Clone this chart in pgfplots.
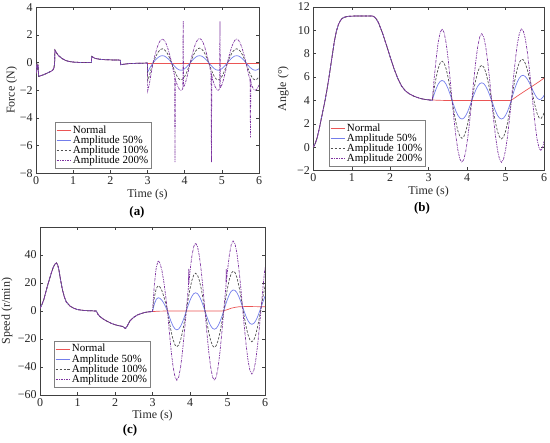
\documentclass[border=0pt]{standalone}
\usepackage{fontspec}
\setmainfont{Liberation Serif}
\usepackage{pgfplots}
\usepackage{pgfplotstable}
\pgfplotsset{compat=1.18}
\definecolor{cnorm}{RGB}{235,85,85}
\definecolor{cfifty}{RGB}{115,125,235}
\definecolor{chund}{RGB}{80,80,80}
\definecolor{ctwo}{RGB}{125,50,160}
\tikzset{
 snorm/.style={cnorm,line width=0.7pt},
 sfifty/.style={cfifty,line width=0.7pt},
 shund/.style={chund,line width=0.7pt,dash pattern=on 2.5pt off 1.5pt},
 stwo/.style={ctwo,line width=0.7pt,dash pattern=on 2.5pt off 1pt on 0.7pt off 1pt},
}
\pgfplotsset{
 myax/.style={
  scale only axis, anchor=north west,
  xmin=0, xmax=6, xtick={0,...,6},
  tick align=inside, major tick length=3bp,
  axis line style={black!75},
  every tick/.style={black!75,line width=0.4pt},
  tick label style={font=\fontsize{12}{13}\selectfont,text=black!85},
  label style={font=\fontsize{12}{13}\selectfont,text=black!85},
  /pgf/number format/assume math mode=true,
  legend style={anchor=south west,font=\fontsize{11}{11}\selectfont,draw=black!50,fill=white,
   inner xsep=1pt,inner ysep=1pt,row sep=-3pt,cells={anchor=west}},
  legend image code/.code={\draw[##1,line width=0.8pt] (0bp,0bp) -- (14bp,0bp);},
  xlabel={Time (s)},
 }
}

% ---------- Force ----------
\pgfplotstableread{
t v
0 -0.1
0.02 -0.6
0.04 -0.25
0.05 -0.15
0.06 -0.3
0.07 -1.0
0.1 -0.97
0.2 -0.88
0.3 -0.76
0.4 -0.63
0.45 -0.55
0.48 -0.4
0.5 -0.1
0.51 0.9
0.55 0.72
0.6 0.52
0.7 0.3
0.8 0.15
0.9 0.08
1.0 0.04
1.2 0.01
1.49 0.0
1.5 0.45
1.55 0.36
1.6 0.3
1.7 0.25
1.8 0.22
2.0 0.2
2.27 0.18
2.28 -0.15
2.35 -0.12
2.5 -0.07
2.7 -0.05
3.0 -0.03
}\fcommon
\pgfplotstableread{
t v
3.0 -0.03
6.0 -0.03
}\fnorm
\pgfplotstableread{
t v
3.000 -0.02
3.005 -0.70
3.050 -0.45
3.100 -0.22
3.150 -0.02
3.200 0.15
3.250 0.29
3.300 0.40
3.350 0.48
3.400 0.50
3.450 0.48
3.500 0.40
3.550 0.29
3.600 0.15
3.650 -0.02
3.700 -0.17
3.750 -0.32
3.800 -0.44
3.850 -0.52
3.900 -0.55
3.950 -0.52
4.000 -0.44
4.050 -0.32
4.100 -0.17
4.150 -0.02
4.200 0.15
4.250 0.29
4.300 0.40
4.350 0.48
4.400 0.50
4.450 0.48
4.500 0.40
4.550 0.29
4.600 0.15
4.650 -0.02
4.700 -0.17
4.750 -0.32
4.800 -0.44
4.850 -0.52
4.900 -0.55
4.950 -0.52
5.000 -0.44
5.050 -0.32
5.100 -0.17
5.150 -0.02
5.200 0.15
5.250 0.29
5.300 0.40
5.350 0.48
5.400 0.50
5.450 0.48
5.500 0.40
5.550 0.29
5.600 0.15
5.650 -0.02
5.700 -0.17
5.750 -0.32
5.800 -0.44
5.850 -0.52
5.900 -0.55
5.950 -0.52
6.000 -0.44
}\ffifty
\pgfplotstableread{
t v
3.000 -0.02
3.005 -1.30
3.050 -0.95
3.100 -0.45
3.150 -0.02
3.200 0.31
3.250 0.59
3.300 0.81
3.350 0.95
3.400 1.00
3.450 0.95
3.500 0.81
3.550 0.59
3.600 0.31
3.650 -0.02
3.700 -0.39
3.750 -0.74
3.800 -1.01
3.850 -1.19
3.900 -1.25
3.950 -1.19
4.000 -1.01
4.050 -0.74
4.100 -0.39
4.150 -0.02
4.200 0.32
4.250 0.62
4.300 0.85
4.350 1.00
4.400 1.05
4.450 1.00
4.500 0.85
4.550 0.62
4.600 0.32
4.650 -0.02
4.700 -0.39
4.750 -0.74
4.800 -1.01
4.850 -1.19
4.900 -1.25
4.950 -1.19
5.000 -1.01
5.050 -0.74
5.100 -0.39
5.150 -0.02
5.200 0.31
5.250 0.59
5.300 0.81
5.350 0.95
5.400 1.00
5.450 0.95
5.500 0.81
5.550 0.59
5.600 0.31
5.650 -0.02
5.700 -0.39
5.750 -0.74
5.800 -1.01
5.850 -1.19
5.900 -1.25
5.950 -1.19
6.000 -1.01
}\fhund
\pgfplotstableread{
t v
3.000 -0.02
3.005 -2.05
3.050 -1.55
3.100 -0.75
3.150 0.00
3.200 0.53
3.250 1.00
3.300 1.38
3.350 1.62
3.400 1.70
3.450 1.62
3.500 1.38
3.550 1.00
3.600 0.53
3.650 0.00
3.700 -0.62
3.730 -0.95
3.740 -7.20
3.750 -1.20
3.800 -1.62
3.850 -1.90
3.900 -2.00
3.950 -1.90
3.960 3.00
3.970 -1.75
4.000 -1.62
4.050 -1.18
4.100 -0.62
4.150 0.00
4.200 0.54
4.250 1.03
4.300 1.42
4.350 1.66
4.400 1.75
4.450 1.66
4.500 1.42
4.550 1.03
4.600 0.54
4.650 0.00
4.700 -0.62
4.710 -0.75
4.720 -7.20
4.730 -0.95
4.750 -1.18
4.800 -1.62
4.850 -1.90
4.900 -2.00
4.940 -1.92
4.950 3.00
4.960 -1.85
5.000 -1.62
5.050 -1.18
5.100 -0.62
5.150 0.00
5.200 0.53
5.250 1.00
5.300 1.38
5.350 1.62
5.400 1.70
5.450 1.62
5.500 1.38
5.550 1.00
5.600 0.53
5.650 0.00
5.700 -0.62
5.750 -1.18
5.760 -1.25
5.770 -5.40
5.780 -1.35
5.800 -1.62
5.850 -1.90
5.900 -2.00
5.950 -1.90
6.000 -1.62
}\ftwo

% ---------- Angle ----------
\pgfplotstableread{
t v
0 0
0.05 0.3
0.1 0.8
0.15 1.5
0.2 2.3
0.25 3.1
0.3 3.9
0.35 4.8
0.4 5.8
0.45 6.9
0.5 8.0
0.55 9.1
0.6 9.9
0.65 10.45
0.7 10.8
0.75 11.0
0.8 11.1
0.9 11.18
1.0 11.2
1.2 11.22
1.5 11.22
1.55 11.2
1.6 11.1
1.65 10.9
1.7 10.6
1.8 9.75
1.9 8.75
2.0 7.7
2.1 6.7
2.2 5.85
2.3 5.2
2.4 4.8
2.5 4.55
2.6 4.38
2.7 4.25
2.8 4.15
2.9 4.08
3.0 4.04
}\acommon
\pgfplotstableread{
t v
3.0 4.04
3.3 4.0
3.6 3.98
5.12 3.98
5.2 4.12
5.3 4.35
5.4 4.57
5.5 4.79
5.6 5.0
5.7 5.22
5.8 5.44
5.9 5.66
6.0 5.9
}\anorm
\pgfplotstableread{
t v
3.000 4.04
3.093 4.00
3.144 4.53
3.196 5.00
3.247 5.38
3.299 5.62
3.350 5.70
3.402 5.62
3.453 5.38
3.505 5.00
3.556 4.53
3.608 4.00
3.659 3.51
3.711 3.06
3.762 2.71
3.814 2.48
3.865 2.40
3.917 2.48
3.968 2.71
4.020 3.06
4.071 3.51
4.123 4.00
4.174 4.46
4.226 4.88
4.277 5.21
4.329 5.43
4.380 5.50
4.432 5.43
4.483 5.21
4.535 4.88
4.586 4.46
4.638 4.00
4.689 3.51
4.741 3.06
4.792 2.71
4.844 2.48
4.895 2.40
4.947 2.48
4.998 2.71
5.050 3.06
5.101 3.51
5.153 4.07
5.204 4.63
5.256 5.15
5.307 5.59
5.359 5.91
5.410 6.10
5.462 6.14
5.513 6.04
5.565 5.82
5.616 5.52
5.668 5.18
5.719 4.78
5.771 4.45
5.822 4.19
5.874 4.07
5.925 4.10
5.977 4.29
6.000 4.43
}\afifty
\pgfplotstableread{
t v
3.000 4.04
3.093 4.00
3.144 5.04
3.196 5.97
3.247 6.71
3.299 7.19
3.350 7.35
3.402 7.19
3.453 6.71
3.505 5.97
3.556 5.04
3.608 4.00
3.659 3.00
3.711 2.09
3.762 1.37
3.814 0.91
3.865 0.75
3.917 0.91
3.968 1.37
4.020 2.09
4.071 3.00
4.123 4.00
4.174 4.93
4.226 5.76
4.277 6.43
4.329 6.85
4.380 7.00
4.432 6.85
4.483 6.43
4.535 5.76
4.586 4.93
4.638 4.00
4.689 2.98
4.741 2.06
4.792 1.33
4.844 0.86
4.895 0.70
4.947 0.86
4.998 1.33
5.050 2.06
5.101 2.98
5.153 4.07
5.204 5.07
5.256 5.98
5.307 6.72
5.359 7.24
5.410 7.50
5.462 7.47
5.513 7.17
5.565 6.65
5.616 5.96
5.668 5.18
5.719 4.27
5.771 3.48
5.822 2.86
5.874 2.50
5.925 2.45
5.977 2.72
6.000 2.95
}\ahund
\pgfplotstableread{
t v
3.000 4.04
3.093 4.00
3.144 5.88
3.196 7.59
3.247 8.93
3.299 9.80
3.350 10.10
3.402 9.80
3.453 8.93
3.505 7.59
3.556 5.88
3.608 4.00
3.659 2.36
3.711 0.88
3.762 -0.29
3.814 -1.04
3.865 -1.30
3.917 -1.04
3.968 -0.29
4.020 0.88
4.071 2.36
4.123 4.00
4.174 5.76
4.226 7.35
4.277 8.61
4.329 9.42
4.380 9.70
4.432 9.42
4.483 8.61
4.535 7.35
4.586 5.76
4.638 4.00
4.689 2.36
4.741 0.88
4.792 -0.29
4.844 -1.04
4.895 -1.30
4.947 -1.04
4.998 -0.29
5.050 0.88
5.101 2.36
5.153 4.07
5.204 5.87
5.256 7.51
5.307 8.83
5.359 9.71
5.410 10.10
5.462 9.94
5.513 9.28
5.565 8.18
5.616 6.76
5.668 5.18
5.719 3.42
5.771 1.86
5.822 0.63
5.874 -0.11
5.925 -0.30
5.977 0.11
6.000 0.48
}\atwo

% ---------- Speed ----------
\pgfplotstableread{
t v
0 1.9
0.05 4.5
0.1 8
0.15 13
0.2 18
0.25 22.5
0.3 27
0.35 31
0.4 33.5
0.44 34.3
0.47 33
0.5 30
0.55 22
0.6 15
0.65 10
0.7 6.5
0.8 3.5
0.9 2
1.0 1
1.2 0.3
1.5 0
1.55 -2.5
1.6 -4
1.7 -6
1.8 -7.5
1.9 -8.8
2.0 -9.8
2.1 -10.5
2.2 -11
2.28 -12.5
2.32 -11
2.4 -7
2.5 -4.5
2.6 -2.8
2.7 -1.8
2.8 -1.0
2.9 -0.6
3.0 -0.4
}\scommon
\pgfplotstableread{
t v
3.0 -0.4
3.2 -0.1
3.5 0
4.85 0
4.9 0.2
5.0 1.0
5.1 2.0
5.2 2.6
5.3 3.0
5.5 3.2
5.8 3.1
6.0 3.0
}\snorm
\pgfplotstableread{
t v
3.00 -0.4
3.05 5.0
3.10 8.3
3.15 9.5
3.20 9.0
3.25 7.7
3.30 5.6
3.35 2.9
3.40 0
3.45 -4.2
3.50 -7.9
3.55 -10.9
3.60 -12.8
3.65 -13.5
3.70 -12.8
3.75 -10.9
3.80 -7.9
3.85 -4.2
3.90 0
3.95 4.0
4.00 7.6
4.05 10.5
4.10 12.4
4.15 13.0
4.20 12.4
4.25 10.5
4.30 7.6
4.35 4.0
4.40 0
4.45 -4.0
4.50 -7.6
4.55 -10.5
4.60 -12.4
4.65 -13.0
4.70 -12.4
4.75 -10.5
4.80 -7.6
4.85 -4.0
4.90 0.2
4.95 4.5
5.00 8.5
5.05 11.8
5.10 14.1
5.15 15.0
5.20 14.7
5.25 13.1
5.30 10.5
5.35 7.0
5.40 3.1
5.45 -0.7
5.50 -4.3
5.55 -7.1
5.60 -8.9
5.65 -9.5
5.70 -8.9
5.75 -7.1
5.80 -4.3
5.85 -0.7
5.90 3.1
5.95 6.9
6.00 10.5
}\sfifty
\pgfplotstableread{
t v
3.00 -0.4
3.05 10
3.10 16
3.15 18
3.20 17.1
3.25 14.6
3.30 10.6
3.35 5.6
3.40 0
3.45 -7.9
3.50 -15.0
3.55 -20.6
3.60 -24.3
3.65 -25.5
3.70 -24.3
3.75 -20.6
3.80 -15.0
3.85 -7.9
3.90 0
3.95 8.3
4.00 15.9
4.05 21.8
4.10 25.7
4.15 27.0
4.20 25.7
4.25 21.8
4.30 15.9
4.35 8.3
4.40 0
4.45 -8.0
4.50 -15.3
4.55 -21.0
4.60 -24.7
4.65 -26.0
4.70 -24.7
4.75 -21.0
4.80 -15.3
4.85 -8.0
4.90 0.2
4.95 8.7
5.00 16.4
5.05 22.7
5.10 26.9
5.15 28.5
5.20 27.5
5.25 24.0
5.30 18.4
5.35 11.2
5.40 3.1
5.45 -4.6
5.50 -11.6
5.55 -17.2
5.60 -20.8
5.65 -22.0
5.70 -20.8
5.75 -17.2
5.80 -11.6
5.85 -4.6
5.90 3.1
5.95 10.7
6.00 17.7
}\shund
\pgfplotstableread{
t v
3.00 -0.4
3.05 19
3.10 31
3.15 36
3.20 34.2
3.25 29.1
3.30 21.2
3.35 11.1
3.40 0
3.45 -15.3
3.50 -29.1
3.55 -40.0
3.60 -47.1
3.65 -49.5
3.70 -47.1
3.75 -40.0
3.80 -29.1
3.85 -15.3
3.90 0
3.95 15.0
3.96 17.5
3.965 30
3.97 19.5
4.00 28.5
4.05 39.2
4.10 46.1
4.15 48.5
4.20 46.1
4.25 39.2
4.30 28.5
4.35 15.0
4.40 0
4.45 -15.3
4.50 -29.1
4.55 -40.0
4.60 -47.1
4.65 -49.5
4.70 -47.1
4.75 -40.0
4.80 -29.1
4.85 -15.3
4.90 0.2
4.95 15.3
4.96 18
4.965 30
4.97 20.5
5.00 29.0
5.05 40.1
5.10 47.4
5.15 50.0
5.20 48.0
5.25 41.4
5.30 31.0
5.35 17.8
5.40 3.1
5.45 -11.7
5.50 -25.1
5.55 -35.8
5.60 -42.6
5.65 -45.0
5.70 -42.6
5.75 -35.8
5.80 -25.1
5.85 -11.7
5.90 3.1
5.95 17.8
6.00 31.2
}\stwo

\begin{document}
\begin{tikzpicture}
\path[use as bounding box] (0,0) rectangle (550bp,443bp);

% (a)
\begin{axis}[myax, at={(36bp,435.7bp)}, width=223bp, height=166bp,
 ymin=-8, ymax=4, ytick={-8,-6,-4,-2,0,2,4}, yticklabels={−8,−6,−4,−2,0,2,4},
 ylabel={Force (N)},
 xlabel style={at={(axis description cs:0.5,-0.13)},anchor=center},
 ylabel style={at={(axis description cs:-0.109,0.5)},anchor=center},
 legend style={at={(0.085,0.032)}}]
\addplot[snorm,forget plot] table {\fcommon};
\addplot[snorm] table {\fnorm};
\addplot[sfifty,forget plot] table {\fcommon};
\addplot[sfifty] table {\ffifty};
\addplot[shund,forget plot] table {\fcommon};
\addplot[shund] table {\fhund};
\addplot[stwo,forget plot] table {\fcommon};
\addplot[stwo] table {\ftwo};
\legend{Normal,Amplitude 50\%,Amplitude 100\%,Amplitude 200\%}
\end{axis}

% (b)
\begin{axis}[myax, at={(313.3bp,436.2bp)}, width=230.7bp, height=163.7bp,
 ymin=-2, ymax=12, ytick={-2,0,2,4,6,8,10,12}, yticklabels={−2,0,2,4,6,8,10,12},
 ylabel={Angle (°)},
 xlabel style={at={(axis description cs:0.5,-0.128)},anchor=center},
 ylabel style={at={(axis description cs:-0.13,0.5)},anchor=center},
 legend style={at={(0.068,0.027)}}]
\addplot[snorm,forget plot] table {\acommon};
\addplot[snorm] table {\anorm};
\addplot[sfifty,forget plot] table {\acommon};
\addplot[sfifty] table {\afifty};
\addplot[shund,forget plot] table {\acommon};
\addplot[shund] table {\ahund};
\addplot[stwo,forget plot] table {\acommon};
\addplot[stwo] table {\atwo};
\legend{Normal,Amplitude 50\%,Amplitude 100\%,Amplitude 200\%}
\end{axis}

% (c)
\begin{axis}[myax, at={(40bp,216bp)}, width=225bp, height=168bp,
 ymin=-60, ymax=60, ytick={-60,-40,-20,0,20,40}, yticklabels={−60,−40,−20,0,20,40},
 ylabel={Speed (r/min)},
 xlabel style={at={(axis description cs:0.5,-0.124)},anchor=center},
 ylabel style={at={(axis description cs:-0.147,0.5)},anchor=center},
 legend style={at={(0.062,0.048)}}]
\addplot[snorm,forget plot] table {\scommon};
\addplot[snorm] table {\snorm};
\addplot[sfifty,forget plot] table {\scommon};
\addplot[sfifty] table {\sfifty};
\addplot[shund,forget plot] table {\scommon};
\addplot[shund] table {\shund};
\addplot[stwo,forget plot] table {\scommon};
\addplot[stwo] table {\stwo};
\legend{Normal,Amplitude 50\%,Amplitude 100\%,Amplitude 200\%}
\end{axis}

\node[font=\bfseries\fontsize{13}{15}\selectfont] at (137bp,231bp) {(a)};
\node[font=\bfseries\fontsize{13}{15}\selectfont] at (422bp,235bp) {(b)};
\node[font=\bfseries\fontsize{13}{15}\selectfont] at (130bp,13bp) {(c)};
\end{tikzpicture}
\end{document}
